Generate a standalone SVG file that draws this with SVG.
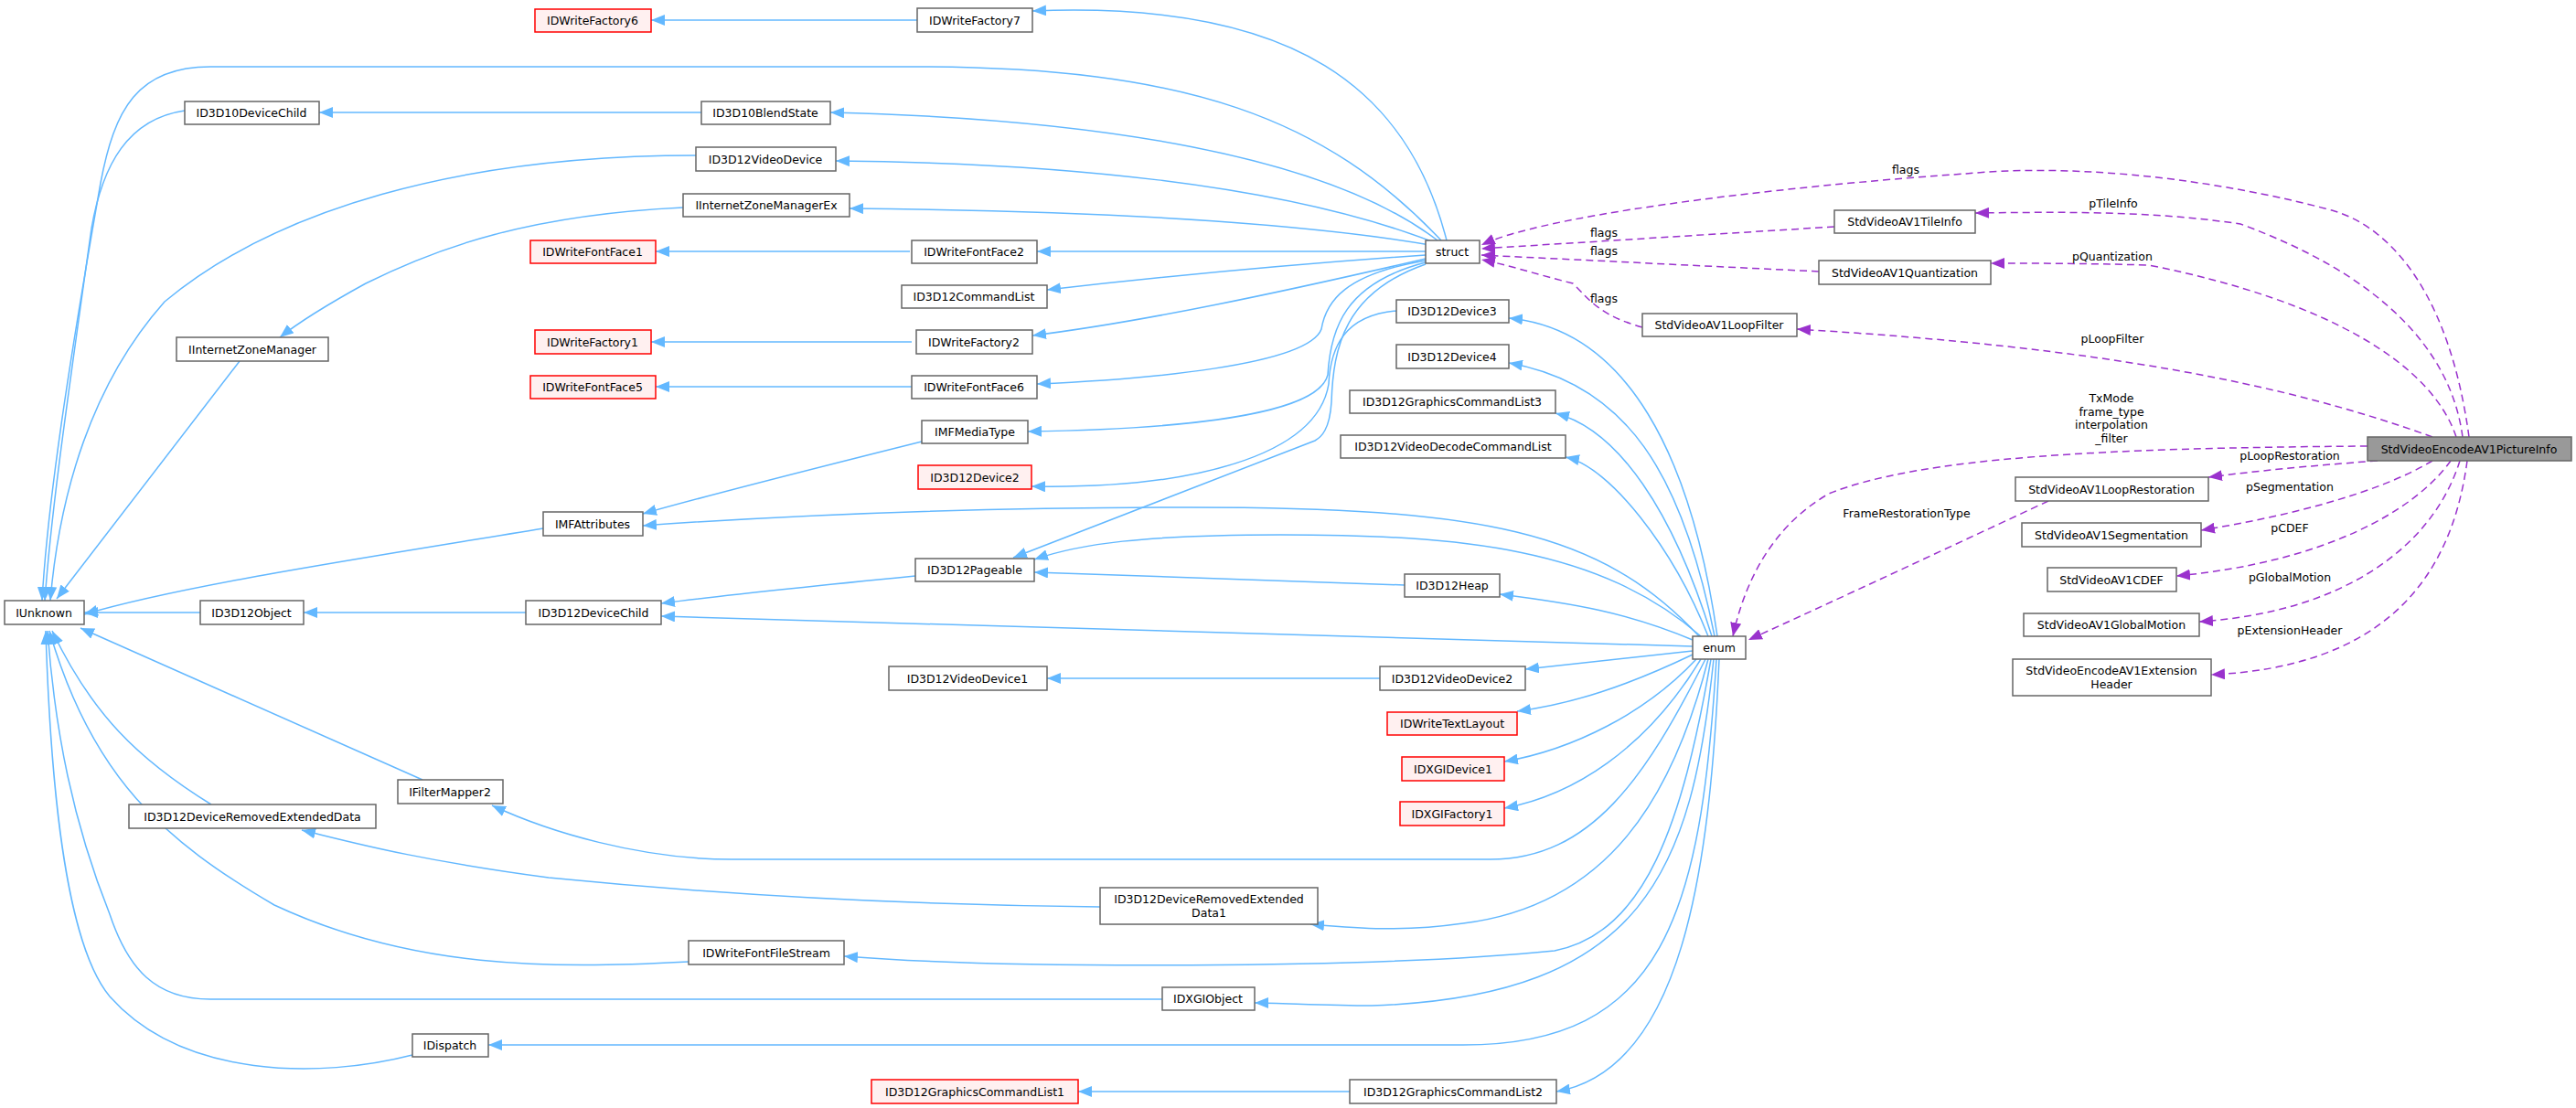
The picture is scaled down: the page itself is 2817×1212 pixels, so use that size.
<svg xmlns="http://www.w3.org/2000/svg" width="2817" height="1212" viewBox="0 0 2817 1212">
<style>
text{font-family:"DejaVu Sans","Liberation Sans",sans-serif;font-size:12.5px;fill:#000}
.node text{text-anchor:middle}
.n{fill:#fff;stroke:#666;stroke-width:1.5}
.r{fill:#fff0f0;stroke:#f00;stroke-width:1.5}
.g{fill:#999;stroke:#666;stroke-width:1.5}
.b{fill:none;stroke:#63b8ff;stroke-width:1.5;marker-end:url(#ab)}
.p{fill:none;stroke:#9a32cd;stroke-width:1.5;stroke-dasharray:8,5;marker-end:url(#ap)}
.lbl{text-anchor:middle}
</style>
<defs>
<marker id="ab" markerUnits="userSpaceOnUse" markerWidth="16" markerHeight="12" refX="15" refY="6" orient="auto"><path d="M0,0 L15,6 L0,12 z" fill="#63b8ff"/></marker>
<marker id="ap" markerUnits="userSpaceOnUse" markerWidth="16" markerHeight="12" refX="15" refY="6" orient="auto"><path d="M0,0 L15,6 L0,12 z" fill="#9a32cd"/></marker>
</defs>
<rect width="2817" height="1212" fill="#fff"/>
<g id="edges">
<path class="b" d="M1003,22 L712,22"/>
<path class="b" d="M1582,263 C1540,100 1420,0 1129,12"/>
<path class="b" d="M1576,263 C1450,130 1300,73 1000,73 L230,73 C150,73 125,120 110,200 C75,400 52,550 46,657"/>
<path class="b" d="M767,123 L349,123"/>
<path class="b" d="M1572,263 C1450,170 1200,130 908,123"/>
<path class="b" d="M202,121 C140,130 112,180 100,250 C72,450 56,560 49,657"/>
<path class="b" d="M1568,265 C1400,200 1150,178 914,176"/>
<path class="b" d="M761,170 C500,170 300,230 180,330 C100,420 65,540 55,657"/>
<path class="b" d="M1564,268 C1400,240 1150,230 929,228"/>
<path class="b" d="M747,227 C580,235 480,270 400,310 C360,332 330,350 306,369"/>
<path class="b" d="M262,395 L62,655"/>
<path class="b" d="M995,275 L717,275"/>
<path class="b" d="M1559,275 L1134,275"/>
<path class="b" d="M1559,279 C1400,290 1250,305 1145,317"/>
<path class="b" d="M997,374 L712,374"/>
<path class="b" d="M1559,283 C1400,320 1250,352 1129,367"/>
<path class="b" d="M997,423 L717,423"/>
<path class="b" d="M1559,285 C1470,300 1450,330 1445,360 C1430,400 1250,415 1134,420"/>
<path class="b" d="M1559,287 C1470,310 1455,360 1452,410 C1440,460 1250,470 1124,472"/>
<path class="b" d="M1008,483 C900,510 780,540 703,562"/>
<path class="b" d="M1527,340 C1470,345 1455,380 1453,420 C1440,500 1300,535 1128,532"/>
<path class="b" d="M1559,289 C1470,320 1458,380 1456,440 C1454,470 1445,478 1438,482 L1108,610"/>
<path class="b" d="M1860,696 C1750,600 1600,585 1400,585 C1250,585 1180,595 1131,612"/>
<path class="b" d="M1858,696 C1750,580 1620,555 1300,555 C1000,555 800,568 703,575"/>
<path class="b" d="M594,578 C400,610 200,640 92,672"/>
<path class="b" d="M1001,630 C900,640 800,650 723,660"/>
<path class="b" d="M1536,640 L1131,626"/>
<path class="b" d="M1851,700 C1780,670 1720,660 1640,650"/>
<path class="b" d="M575,670 L332,670"/>
<path class="b" d="M219,670 L92,670"/>
<path class="b" d="M1851,707 L723,674"/>
<path class="b" d="M1509,742 L1145,742"/>
<path class="b" d="M1851,712 L1668,732"/>
<path class="b" d="M1851,716 C1780,750 1720,770 1659,778"/>
<path class="b" d="M1855,721 C1800,780 1720,820 1645,833"/>
<path class="b" d="M1860,721 C1800,820 1720,870 1645,884"/>
<path class="b" d="M462,853 L88,687"/>
<path class="b" d="M1865,721 C1800,850 1740,940 1630,940 L800,940 C700,940 600,910 538,881"/>
<path class="b" d="M231,880 C150,830 100,780 57,690"/>
<path class="b" d="M1203,992 C1000,990 800,980 600,960 C450,940 380,920 330,908"/>
<path class="b" d="M1868,721 C1830,870 1760,990 1600,1010 C1530,1020 1480,1015 1433,1011"/>
<path class="b" d="M753,1052 C600,1060 450,1060 300,990 C180,920 100,850 54,690"/>
<path class="b" d="M1871,721 C1840,900 1800,1020 1700,1040 C1500,1060 1100,1060 923,1046"/>
<path class="b" d="M1271,1093 L230,1093 C170,1093 140,1060 120,1000 C80,900 60,800 52,690"/>
<path class="b" d="M1874,721 C1850,950 1800,1090 1500,1100 C1450,1100 1400,1097 1372,1097"/>
<path class="b" d="M451,1154 C350,1180 200,1180 120,1090 C70,1030 55,850 50,690"/>
<path class="b" d="M1877,721 C1860,1000 1820,1143 1600,1143 L534,1143"/>
<path class="b" d="M1476,1194 L1179,1194"/>
<path class="b" d="M1880,721 C1870,950 1840,1170 1702,1194"/>
<path class="b" d="M1878,696 C1850,500 1780,360 1650,348"/>
<path class="b" d="M1875,696 C1840,520 1780,420 1650,397"/>
<path class="b" d="M1872,696 C1830,560 1770,470 1701,452"/>
<path class="b" d="M1868,696 C1830,600 1760,510 1712,500"/>
<path class="p" d="M2700,478 C2680,330 2620,250 2550,230 C2400,190 2250,180 2150,190 C2000,200 1700,230 1620,268"/>
<path class="p" d="M2006,248 L1620,272"/>
<path class="p" d="M1989,297 L1620,279"/>
<path class="p" d="M1796,358 C1750,345 1740,330 1720,310 C1680,300 1650,290 1620,284"/>
<path class="p" d="M2693,478 C2680,380 2600,300 2450,245 C2350,230 2250,232 2160,233"/>
<path class="p" d="M2686,478 C2660,400 2550,330 2350,290 C2280,288 2220,288 2177,288"/>
<path class="p" d="M2660,478 C2500,420 2300,380 1965,360"/>
<path class="p" d="M2589,488 C2300,490 2100,500 2000,540 C1930,580 1905,650 1895,696"/>
<path class="p" d="M2240,548 C2150,590 2000,660 1912,700"/>
<path class="p" d="M2600,504 C2520,510 2470,515 2415,522"/>
<path class="p" d="M2660,504 C2600,540 2500,565 2407,580"/>
<path class="p" d="M2680,504 C2640,560 2540,615 2380,630"/>
<path class="p" d="M2690,504 C2660,600 2560,670 2405,680"/>
<path class="p" d="M2698,504 C2680,640 2600,730 2418,738"/>
<text class="lbl" x="2084" y="190">flags</text>
<text class="lbl" x="1754" y="259">flags</text>
<text class="lbl" x="1754" y="279">flags</text>
<text class="lbl" x="1754" y="331">flags</text>
<text class="lbl" x="2311" y="227">pTileInfo</text>
<text class="lbl" x="2310" y="285">pQuantization</text>
<text class="lbl" x="2310" y="375">pLoopFilter</text>
<text class="lbl" x="2309" y="440">TxMode</text>
<text class="lbl" x="2309" y="455">frame_type</text>
<text class="lbl" x="2309" y="469">interpolation</text>
<text class="lbl" x="2309" y="484">_filter</text>
<text class="lbl" x="2085" y="566">FrameRestorationType</text>
<text class="lbl" x="2504" y="503">pLoopRestoration</text>
<text class="lbl" x="2504" y="537">pSegmentation</text>
<text class="lbl" x="2504" y="582">pCDEF</text>
<text class="lbl" x="2504" y="636">pGlobalMotion</text>
<text class="lbl" x="2504" y="694">pExtensionHeader</text>
</g>
<g id="IDWriteFactory6" class="node"><rect class="r" x="585" y="10" width="127" height="25"/><text x="648" y="27">IDWriteFactory6</text></g>
<g id="IDWriteFactory7" class="node"><rect class="n" x="1003" y="9" width="126" height="26"/><text x="1066" y="27">IDWriteFactory7</text></g>
<g id="ID3D10DeviceChild" class="node"><rect class="n" x="202" y="111" width="147" height="25"/><text x="275" y="128">ID3D10DeviceChild</text></g>
<g id="ID3D10BlendState" class="node"><rect class="n" x="767" y="111" width="141" height="25"/><text x="837" y="128">ID3D10BlendState</text></g>
<g id="ID3D12VideoDevice" class="node"><rect class="n" x="761" y="161" width="153" height="26"/><text x="837" y="179">ID3D12VideoDevice</text></g>
<g id="IInternetZoneManagerEx" class="node"><rect class="n" x="747" y="212" width="182" height="25"/><text x="838" y="229">IInternetZoneManagerEx</text></g>
<g id="IDWriteFontFace1" class="node"><rect class="r" x="580" y="263" width="137" height="25"/><text x="648" y="280">IDWriteFontFace1</text></g>
<g id="IDWriteFontFace2" class="node"><rect class="n" x="997" y="263" width="137" height="25"/><text x="1065" y="280">IDWriteFontFace2</text></g>
<g id="ID3D12CommandList" class="node"><rect class="n" x="986" y="312" width="159" height="25"/><text x="1065" y="329">ID3D12CommandList</text></g>
<g id="IInternetZoneManager" class="node"><rect class="n" x="193" y="369" width="166" height="26"/><text x="276" y="387">IInternetZoneManager</text></g>
<g id="IDWriteFactory1" class="node"><rect class="r" x="585" y="361" width="127" height="26"/><text x="648" y="379">IDWriteFactory1</text></g>
<g id="IDWriteFactory2" class="node"><rect class="n" x="1002" y="361" width="127" height="26"/><text x="1065" y="379">IDWriteFactory2</text></g>
<g id="IDWriteFontFace5" class="node"><rect class="r" x="580" y="411" width="137" height="25"/><text x="648" y="428">IDWriteFontFace5</text></g>
<g id="IDWriteFontFace6" class="node"><rect class="n" x="997" y="411" width="137" height="25"/><text x="1065" y="428">IDWriteFontFace6</text></g>
<g id="IMFMediaType" class="node"><rect class="n" x="1008" y="460" width="116" height="25"/><text x="1066" y="477">IMFMediaType</text></g>
<g id="ID3D12Device2" class="node"><rect class="r" x="1004" y="509" width="124" height="26"/><text x="1066" y="527">ID3D12Device2</text></g>
<g id="IMFAttributes" class="node"><rect class="n" x="594" y="560" width="109" height="26"/><text x="648" y="578">IMFAttributes</text></g>
<g id="struct" class="node"><rect class="n" x="1559" y="263" width="59" height="25"/><text x="1588" y="280">struct</text></g>
<g id="ID3D12Device3" class="node"><rect class="n" x="1527" y="328" width="123" height="25"/><text x="1588" y="345">ID3D12Device3</text></g>
<g id="ID3D12Device4" class="node"><rect class="n" x="1527" y="377" width="123" height="26"/><text x="1588" y="395">ID3D12Device4</text></g>
<g id="ID3D12GraphicsCommandList3" class="node"><rect class="n" x="1476" y="427" width="225" height="25"/><text x="1588" y="444">ID3D12GraphicsCommandList3</text></g>
<g id="ID3D12VideoDecodeCommandList" class="node"><rect class="n" x="1466" y="476" width="246" height="25"/><text x="1589" y="493">ID3D12VideoDecodeCommandList</text></g>
<g id="ID3D12Pageable" class="node"><rect class="n" x="1001" y="611" width="130" height="25"/><text x="1066" y="628">ID3D12Pageable</text></g>
<g id="ID3D12Heap" class="node"><rect class="n" x="1536" y="628" width="104" height="25"/><text x="1588" y="645">ID3D12Heap</text></g>
<g id="IUnknown" class="node"><rect class="n" x="5" y="657" width="87" height="26"/><text x="48" y="675">IUnknown</text></g>
<g id="ID3D12Object" class="node"><rect class="n" x="219" y="657" width="113" height="26"/><text x="275" y="675">ID3D12Object</text></g>
<g id="ID3D12DeviceChild" class="node"><rect class="n" x="575" y="657" width="148" height="26"/><text x="649" y="675">ID3D12DeviceChild</text></g>
<g id="enum" class="node"><rect class="n" x="1851" y="696" width="58" height="25"/><text x="1880" y="713">enum</text></g>
<g id="ID3D12VideoDevice1" class="node"><rect class="n" x="972" y="729" width="173" height="26"/><text x="1058" y="747">ID3D12VideoDevice1</text></g>
<g id="ID3D12VideoDevice2" class="node"><rect class="n" x="1509" y="729" width="159" height="26"/><text x="1588" y="747">ID3D12VideoDevice2</text></g>
<g id="IDWriteTextLayout" class="node"><rect class="r" x="1517" y="779" width="142" height="25"/><text x="1588" y="796">IDWriteTextLayout</text></g>
<g id="IDXGIDevice1" class="node"><rect class="r" x="1533" y="828" width="112" height="26"/><text x="1589" y="846">IDXGIDevice1</text></g>
<g id="IDXGIFactory1" class="node"><rect class="r" x="1531" y="877" width="114" height="26"/><text x="1588" y="895">IDXGIFactory1</text></g>
<g id="IFilterMapper2" class="node"><rect class="n" x="435" y="853" width="115" height="26"/><text x="492" y="871">IFilterMapper2</text></g>
<g id="ID3D12DeviceRemovedExtendedData" class="node"><rect class="n" x="141" y="880" width="270" height="26"/><text x="276" y="898">ID3D12DeviceRemovedExtendedData</text></g>
<g id="ID3D12DeviceRemovedExtendedData1" class="node"><rect class="n" x="1203" y="971" width="238" height="40"/><text x="1322" y="988">ID3D12DeviceRemovedExtended</text><text x="1322" y="1003">Data1</text></g>
<g id="IDWriteFontFileStream" class="node"><rect class="n" x="753" y="1029" width="170" height="26"/><text x="838" y="1047">IDWriteFontFileStream</text></g>
<g id="IDXGIObject" class="node"><rect class="n" x="1271" y="1080" width="101" height="25"/><text x="1321" y="1097">IDXGIObject</text></g>
<g id="IDispatch" class="node"><rect class="n" x="451" y="1131" width="83" height="25"/><text x="492" y="1148">IDispatch</text></g>
<g id="ID3D12GraphicsCommandList1" class="node"><rect class="r" x="953" y="1181" width="226" height="26"/><text x="1066" y="1199">ID3D12GraphicsCommandList1</text></g>
<g id="ID3D12GraphicsCommandList2" class="node"><rect class="n" x="1476" y="1181" width="226" height="26"/><text x="1589" y="1199">ID3D12GraphicsCommandList2</text></g>
<g id="StdVideoAV1TileInfo" class="node"><rect class="n" x="2006" y="230" width="154" height="25"/><text x="2083" y="247">StdVideoAV1TileInfo</text></g>
<g id="StdVideoAV1Quantization" class="node"><rect class="n" x="1989" y="285" width="188" height="26"/><text x="2083" y="303">StdVideoAV1Quantization</text></g>
<g id="StdVideoAV1LoopFilter" class="node"><rect class="n" x="1796" y="343" width="169" height="25"/><text x="1880" y="360">StdVideoAV1LoopFilter</text></g>
<g id="StdVideoEncodeAV1PictureInfo" class="node"><rect class="g" x="2589" y="478" width="223" height="26"/><text x="2700" y="496">StdVideoEncodeAV1PictureInfo</text></g>
<g id="StdVideoAV1LoopRestoration" class="node"><rect class="n" x="2204" y="522" width="211" height="26"/><text x="2309" y="540">StdVideoAV1LoopRestoration</text></g>
<g id="StdVideoAV1Segmentation" class="node"><rect class="n" x="2211" y="572" width="196" height="26"/><text x="2309" y="590">StdVideoAV1Segmentation</text></g>
<g id="StdVideoAV1CDEF" class="node"><rect class="n" x="2239" y="621" width="141" height="26"/><text x="2309" y="639">StdVideoAV1CDEF</text></g>
<g id="StdVideoAV1GlobalMotion" class="node"><rect class="n" x="2213" y="671" width="192" height="25"/><text x="2309" y="688">StdVideoAV1GlobalMotion</text></g>
<g id="StdVideoEncodeAV1ExtensionHeader" class="node"><rect class="n" x="2201" y="721" width="217" height="40"/><text x="2309" y="738">StdVideoEncodeAV1Extension</text><text x="2309" y="753">Header</text></g>
</svg>
